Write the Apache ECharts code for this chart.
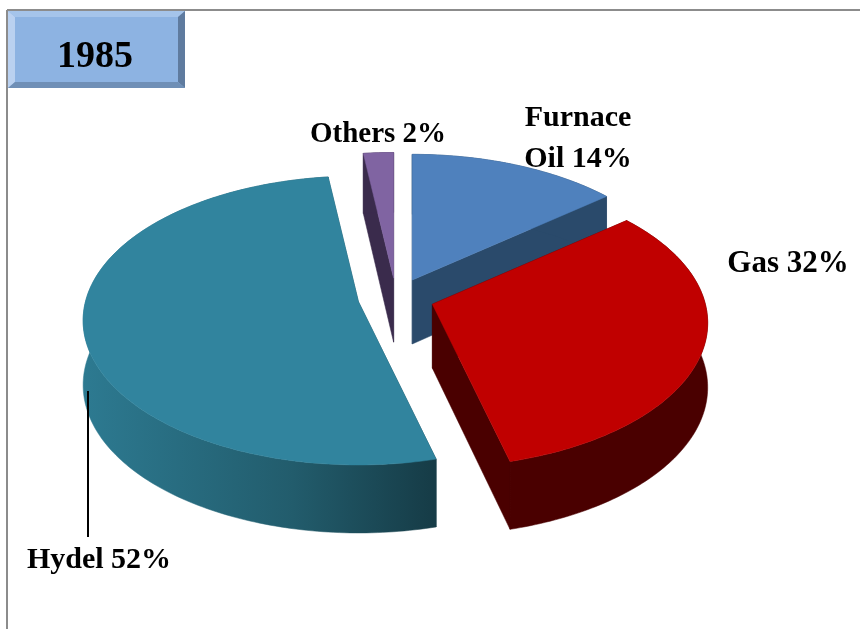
<!DOCTYPE html>
<html>
<head>
<meta charset="utf-8">
<title>1985</title>
<style>
  html, body { margin: 0; padding: 0; background: #fff; }
  #chart { width: 860px; height: 629px; }
</style>
<script src="https://cdn.jsdelivr.net/npm/echarts@6/dist/echarts.min.js"></script>
</head>
<body>
<div id="chart"></div>
<script>
const title = '1985';
const categories = ['Furnace\nOil', 'Gas', 'Hydel', 'Others'];
const shares = [14, 32, 52, 2];
// back slices first so the front ones overlap them
const drawOrder = [3, 0, 2, 1];

const chart = echarts.init(document.getElementById('chart'));

// fake 3D pie: disc seen in perspective, extruded downwards
const CX = 396, CY = 298, RX = 273, RY = 142, PERSP = 0.13, EXPLODE = 0.14;
const FONT = '"Liberation Serif", serif';

const topColors = ['#4f81bd', '#c00000', '#31849e', '#8064a2'];
const sideColors = [
  '#2a4a6b',
  '#4a0000',
  new echarts.graphic.LinearGradient(83, 0, 433, 0, [
    { offset: 0, color: '#2d7a91' },
    { offset: 0.6, color: '#225c6c' },
    { offset: 1, color: '#163c47' }
  ], true),
  '#3a2b4c'
];
const labelStyle = [
  { x: 578, y: 139, size: 30 },
  { x: 788, y: 264, size: 31 },
  { x: 99, y: 560, size: 30 },
  { x: 378, y: 135, size: 29 }
];

const total = shares.reduce((a, b) => a + b, 0);
const startAngles = shares.map((_, i) =>
  shares.slice(0, i).reduce((a, b) => a + b, 0) / total * Math.PI * 2
);

function rimPoint(apex, angle) {
  const u = Math.sin(angle), v = Math.cos(angle);
  const s = 1 / (1 + PERSP * v);
  return {
    x: apex[0] + RX * u * s,
    y: apex[1] - RY * v * s,
    depth: 64 - 4 * v
  };
}

function renderSlice(params, api) {
  const i = api.value(0);
  const start = startAngles[i];
  const sweep = shares[i] / total * Math.PI * 2;
  const mid = start + sweep / 2;
  const apex = [
    CX + RX * EXPLODE * Math.sin(mid),
    CY - RY * EXPLODE * Math.cos(mid)
  ];
  const D = 64;

  const rim = [];
  const steps = Math.max(2, Math.ceil(sweep / (Math.PI / 180)));
  for (let k = 0; k <= steps; k++) {
    rim.push(rimPoint(apex, start + sweep * k / steps));
  }
  const first = rim[0], last = rim[rim.length - 1];

  const poly = (points, fill) => ({
    type: 'polygon',
    shape: { points: points },
    style: { fill: fill, stroke: fill, lineWidth: 0.5 }
  });

  const rimTop = rim.map(p => [p.x, p.y]);
  const rimBottom = rim.map(p => [p.x, p.y + p.depth]).reverse();
  const apexBelow = [apex[0], apex[1] + D];

  const children = [
    poly([apex, [first.x, first.y], [first.x, first.y + first.depth], apexBelow], sideColors[i]),
    poly([apex, [last.x, last.y], [last.x, last.y + last.depth], apexBelow], sideColors[i]),
    poly(rimTop.concat(rimBottom), sideColors[i]),
    poly([apex].concat(rimTop), topColors[i]),
    {
      type: 'text',
      style: {
        x: labelStyle[i].x,
        y: labelStyle[i].y,
        text: categories[i] + ' ' + shares[i] + '%',
        fill: '#000',
        font: 'bold ' + labelStyle[i].size + 'px ' + FONT,
        lineHeight: 41,
        align: 'center',
        verticalAlign: 'middle'
      },
      z2: 10
    }
  ];
  return { type: 'group', children: children };
}

const option = {
  animation: false,
  backgroundColor: '#fff',
  graphic: [
    // chart frame
    { type: 'line', shape: { x1: 7, y1: 10, x2: 860, y2: 10 }, style: { stroke: '#8c8c8c', lineWidth: 2 } },
    { type: 'line', shape: { x1: 7, y1: 10, x2: 7, y2: 629 }, style: { stroke: '#8c8c8c', lineWidth: 2 } },
    // bevelled title box
    { type: 'rect', shape: { x: 8, y: 11, width: 177, height: 77 }, style: { fill: '#8db3e2' } },
    { type: 'polygon', shape: { points: [[8, 11], [185, 11], [178, 17], [15, 17]] }, style: { fill: '#a5c4ea' } },
    { type: 'polygon', shape: { points: [[8, 11], [15, 17], [15, 82], [8, 88]] }, style: { fill: '#bad1f0' } },
    { type: 'polygon', shape: { points: [[185, 11], [185, 88], [178, 82], [178, 17]] }, style: { fill: '#5f7b9f' } },
    { type: 'polygon', shape: { points: [[8, 88], [185, 88], [178, 82], [15, 82]] }, style: { fill: '#6f8fb6' } },
    {
      type: 'text',
      style: {
        x: 95, y: 57, text: title, fill: '#000',
        font: 'bold 38px ' + FONT, align: 'center', verticalAlign: 'middle'
      }
    },
    // leader line of the Hydel label
    { type: 'line', z: 5, shape: { x1: 88, y1: 391, x2: 88, y2: 537 }, style: { stroke: '#000', lineWidth: 2 } }
  ],
  series: [
    {
      type: 'custom',
      coordinateSystem: 'none',
      renderItem: renderSlice,
      data: drawOrder.map(i => [i]),
      silent: true
    }
  ]
};

chart.setOption(option);
</script>
</body>
</html>
